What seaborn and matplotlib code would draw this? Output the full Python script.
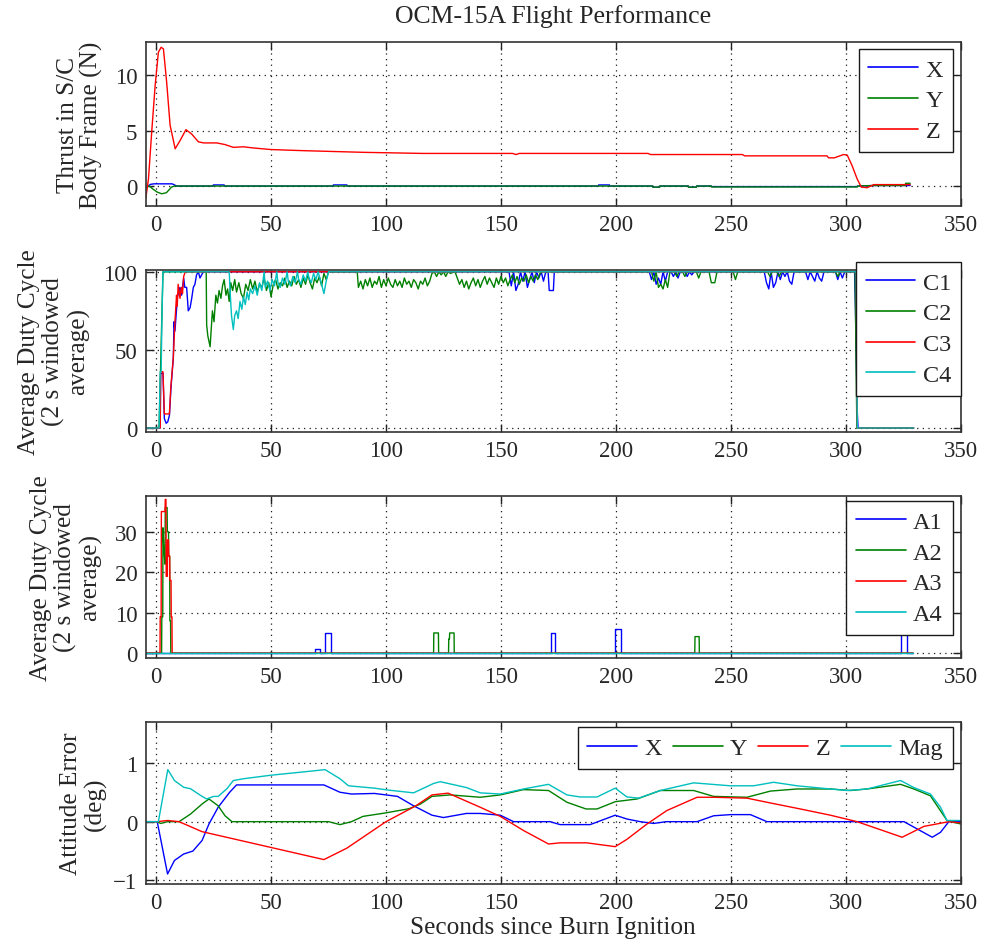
import numpy as np
import pandas as pd
import matplotlib
matplotlib.use("Agg")
import matplotlib.pyplot as plt
import seaborn as sns

# ---------------- data ----------------
# Panel 1: thrust in S/C body frame (N)
thr_x_t = [-4.5, -4, -2.5, -1, 7, 9, 24.8, 24.9, 29.6, 29.7, 77, 77.1, 83, 83.1, 192.4, 192.5, 197.2, 197.3,
           216, 216.1, 219, 219.1, 231.5, 231.6, 235, 235.1, 241.5, 241.6, 305, 305.1, 312, 328]
thr_x_v = [0, -0.1, 0.15, 0.2, 0.2, 0, 0, 0.1, 0.1, 0, 0, 0.1, 0.1, 0, 0, 0.1, 0.1, 0,
           0, -0.1, -0.1, 0, 0, -0.1, -0.1, 0, 0, -0.05, -0.05, 0, 0.05, 0.05]
thr_y_t = [-4.5, -3, -1.2, 0.5, 2.5, 4.5, 6.7, 8, 216, 216.1, 219, 219.1, 231.5, 231.6, 235, 235.1,
           241.5, 241.6, 305, 305.1, 312, 325.9, 326, 328]
thr_y_v = [0, 0, -0.3, -0.55, -0.7, -0.6, -0.1, 0, 0, -0.1, -0.1, 0, 0, -0.1, -0.1, 0,
           0, -0.08, -0.08, 0, 0.05, 0.05, 0.25, 0.25]
thr_z_t = [-4.5, -3.3, -1.9, -0.4, 1.0, 2.2, 3.2, 4.6, 6.1, 8.3, 10.4, 13.0, 15.5, 18.4, 20.7, 26.4, 30,
           33.6, 38, 42, 50, 64, 90, 116, 155, 156.5, 158, 214, 215, 255, 256, 291.8, 292.5, 295, 299,
           300.6, 302.7, 304.9, 306.7, 309.3, 312.2, 328]
thr_z_v = [-1.15, 0.66, 4.9, 9.1, 12.1, 12.55, 12.4, 9.4, 5.5, 3.37, 4.1, 5.1, 4.7, 4.0, 3.9, 3.9, 3.75,
           3.5, 3.55, 3.45, 3.3, 3.2, 3.05, 2.95, 2.95, 2.85, 2.95, 2.95, 2.85, 2.85, 2.73, 2.73, 2.55, 2.55,
           2.85, 2.8, 1.86, 0.66, -0.09, -0.15, 0.13, 0.13]

# Panel 2: C thrusters duty cycle (%)
c1_t = [-4.5, 1.8, 2.0, 3.0, 3.6, 4.4, 5.1, 5.8, 6.5, 7.5, 7.8, 8.2, 8.6, 9.3, 10.4, 11.1, 12.0, 12.5, 13.3,
        14.0, 14.8, 15.5, 16.2, 16.9, 17.6, 18.4, 19.1, 19.8, 20.5,
        153.5, 154.5, 155.5, 156.5, 157.5, 158.5, 159.5, 160.5, 161.5, 162.5, 163.5, 164.5, 165.5, 166.5,
        167.5, 168.5, 169.5, 170.5, 171.0, 172.8, 173.2,
        214.5, 215.5, 216.5, 217.5, 218.5, 219.5, 220.5, 221.5, 222.5, 224, 225, 226, 227, 228, 230, 231,
        232, 233, 234,
        264.5, 265.5, 266.5, 267.5, 268.5, 269.5, 270.5, 271.5, 272.5, 273.5, 274.5, 275.5, 276.5, 277.5,
        282.5, 283.5, 284.5, 285.5, 286.5, 287.5, 288.5, 289.5, 290.5, 291.5,
        295.5, 296.5, 297.5, 298.5, 299.5, 303.8, 304.2, 304.6, 305.0, 305.3, 329.5]
c1_v = [0, 0, 35, 35, 6, 3, 4, 8, 26, 45, 68, 62, 70, 84, 90, 85, 96, 90, 90,
        75, 77, 83, 90, 92, 98, 100, 96, 98, 100,
        100, 91, 100, 88, 92, 100, 94, 100, 90, 95, 100, 93, 100, 96,
        100, 94, 100, 100, 88, 88, 100,
        100, 95, 100, 92, 96, 92, 100, 94, 100, 100, 97, 100, 96, 100, 100, 97,
        100, 98, 100,
        100, 93, 89, 100, 90, 93, 100, 95, 100, 97, 100, 94, 92, 100,
        100, 95, 100, 97, 94, 100, 96, 94, 100, 100,
        100, 95, 100, 96, 100, 100, 75, 40, 10, 0, 0]
c2_t = [-4.5, 1.3, 3.0, 21.8, 22.0, 22.5, 23.5, 24.5, 25.2, 26.0, 26.7, 27.4, 28.2, 28.9, 29.6, 30.4, 31.1,
        31.8, 32.5, 33.3, 34.2, 35, 36, 37, 38, 39, 40, 41, 42, 43, 44, 45, 46, 47, 48, 49, 50, 51, 52, 53,
        54, 55, 56, 57, 58, 59, 60, 61, 62, 63, 64, 65, 66, 67, 68, 69, 70, 71, 72, 73, 74, 75, 87.5,
        88, 89, 90, 91, 92, 93, 94, 95, 96, 97, 98, 99, 100, 101, 102, 103, 104, 105, 106, 107, 108, 109,
        110, 111, 112, 113, 114, 115, 116, 117, 118, 119, 120, 121, 122, 123, 124, 125, 126, 127, 128,
        130, 131, 132, 133, 134, 135, 136, 137, 138, 139, 140, 141, 142, 143, 144, 145, 146, 147, 148,
        149, 150, 151, 152, 153, 154, 155, 156, 157, 158, 159, 160, 161, 162, 163, 164, 165, 166, 167,
        168, 215.5, 216.5, 217.5, 218.5, 219.5, 220.5, 221.5, 222.5, 223.5, 225.5, 226.5, 227.5, 229,
        230, 231, 235, 236, 237, 240.5, 241.5, 243, 244, 251, 252, 253, 266, 267, 268, 270, 271, 272,
        295.5, 296.5, 297.5, 304.0, 304.8, 329.5]
c2_v = [0, 0, 100, 100, 66, 59, 52, 75, 68, 85, 80, 88, 83, 91, 95, 85, 89,
        81, 93, 88, 95, 87, 93, 86, 83, 92, 88, 95, 89, 94, 87, 92, 90, 96, 88, 93, 84, 92, 95, 89,
        93, 91, 96, 90, 94, 91, 97, 92, 95, 90, 96, 92, 98, 93, 89, 96, 93, 97, 91, 99, 95, 100, 100,
        90, 94, 89, 95, 91, 96, 90, 94, 92, 97, 90, 95, 91, 96, 92, 90, 95, 91, 94, 90, 96, 92,
        94, 90, 95, 93, 89, 94, 92, 96, 91, 94, 99, 100, 97, 100, 98, 100, 97, 100, 99,
        100, 96, 92, 95, 90, 94, 89, 93, 96, 91, 95, 90, 94, 97, 92, 96, 93, 90, 96,
        92, 97, 93, 96, 91, 95, 98, 93, 97, 92, 96, 94, 98, 93, 97, 94, 98, 95, 99,
        100, 100, 94, 100, 90, 92, 89, 95, 90, 100, 100, 97, 100, 100,
        97, 100, 100, 96, 100, 100, 93, 93, 100, 100, 95, 100, 100, 97, 100, 100, 97, 100,
        100, 97, 100, 100, 0, 0]
c3_t = [-4.5, 1.8, 2.0, 3.0, 3.6, 5.8, 6.4, 7.5, 8.2, 8.9, 9.2, 9.6, 10.4, 11.0, 11.5, 12.0, 12.7,
        304.5, 305.0, 329.5]
c3_v = [0, 0, 36, 36, 9, 9, 26, 45, 68, 85, 78, 92, 83, 90, 86, 97, 100, 100, 0, 0]
c4_t = [-4.5, 1.3, 1.8, 2.2, 2.6, 3.0, 31.8, 32.3, 32.8, 33.6, 34.2, 35, 35.7, 36.5, 37.3, 38, 38.8, 39.6,
        40.3, 41, 42, 43, 44, 45, 46, 47, 47.5, 48.5, 49.5, 50.5, 51.5, 52.5, 53, 54, 55, 56, 57, 57.5,
        58.5, 59.5, 60.5, 61.5, 62, 63, 64, 65, 66, 66.5, 67.5, 68.5, 69.5, 70.5, 71, 72, 73, 74, 75,
        304.5, 305.0, 329.5]
c4_v = [0, 0, 36, 36, 75, 100, 100, 85, 72, 63, 72, 75, 70, 81, 76, 84, 79, 87,
        82, 89, 86, 91, 85, 93, 88, 100, 90, 94, 88, 95, 91, 100, 93, 90, 96, 92, 100, 94,
        91, 97, 93, 100, 95, 92, 98, 94, 100, 96, 93, 99, 95, 100, 97, 92, 86, 94, 100,
        100, 0, 0]

# Panel 3: A thrusters duty cycle (%)
a1_t = [-4.5, 69.3, 69.3, 71.4, 71.4, 73.5, 73.5, 76.0, 76.0, 171.6, 171.6, 173.7, 173.7, 199.7, 199.7,
        202.2, 202.2, 324.0, 324.0, 326.4, 326.4, 329.3]
a1_v = [0, 0, 1, 1, 0, 0, 5, 5, 0, 0, 5, 5, 0, 0, 6, 6, 0, 0, 5, 5, 0, 0]
a2_t = [-4.5, 2.4, 2.5, 2.9, 3.0, 3.4, 3.5, 3.9, 4.0, 4.8, 4.9, 5.4, 5.5, 5.9, 6.0, 6.3, 6.4, 120.7, 120.8,
        122.8, 122.9, 127.2, 127.3, 127.6, 127.7, 129.6, 129.7, 234.3, 234.4, 236.2, 236.3, 329.3]
a2_v = [0, 0, 9, 9, 31, 25, 25, 22, 36, 36, 30, 30, 24, 24, 8, 8, 0, 0, 5,
        5, 0, 0, 3.5, 3.5, 5, 5, 0, 0, 4.1, 4.1, 0, 0]
a3_t = [-4.5, 1.7, 1.8, 2.2, 2.3, 3.9, 4.0, 4.3, 4.4, 4.9, 5.0, 5.4, 5.5, 5.9, 6.0, 6.5, 6.6, 6.9, 7.0, 329.3]
a3_v = [0, 0, 9, 9, 35, 35, 38, 38, 19, 19, 28, 28, 24, 24, 18, 18, 9, 9, 0, 0]
a4_t = [-4.5, 329.3]
a4_v = [0, 0]

# Panel 4: attitude error (deg)
att_x_t = [-4.5, 0.5, 5.0, 8.0, 12, 16, 20, 23, 27, 32, 35, 73, 80, 85, 95, 105, 112, 120, 125, 135, 141,
           149.7, 155.5, 171.4, 175.7, 188.8, 199.7, 204.8, 210.6, 216.4, 222, 235.3, 242.5, 249.8, 258.5,
           265.7, 325.3, 337.6, 341.2, 344.8, 350]
att_x_v = [0, 0, -0.89, -0.66, -0.55, -0.5, -0.32, -0.04, 0.245, 0.5, 0.625, 0.625, 0.5, 0.47, 0.48, 0.43,
           0.27, 0.11, 0.07, 0.14, 0.14, 0.11, 0, 0, -0.05, -0.05, 0.11, 0.045, 0, -0.03, 0, 0, 0.1, 0.12,
           0.12, 0, 0, -0.265, -0.18, 0, 0]
att_y_t = [-4.5, 0.5, 2, 5, 10, 15, 20, 23, 27, 30, 33, 75, 80, 85, 90, 100, 110, 115, 120, 128, 141, 149.7,
           159.8, 170.7, 178.7, 187, 191.8, 199.7, 209.2, 219.3, 233.8, 242.5, 257, 267.2, 278.8, 293.3,
           302, 309.3, 323.8, 329.6, 336.8, 344, 350]
att_y_v = [0, 0, -0.03, 0, 0, 0.13, 0.3, 0.386, 0.27, 0.1, 0, 0, -0.05, 0, 0.09, 0.15, 0.22, 0.3, 0.43,
           0.455, 0.415, 0.455, 0.545, 0.53, 0.33, 0.216, 0.216, 0.34, 0.386, 0.53, 0.53, 0.43, 0.415,
           0.52, 0.556, 0.556, 0.53, 0.556, 0.635, 0.556, 0.44, 0.02, -0.04]
att_z_t = [-4.5, 0.5, 5, 10, 20, 73, 83, 100, 113, 120, 127, 141, 149.7, 159.8, 170.7, 175.7, 187.3, 199.7,
           204.8, 213.5, 222.2, 235.3, 242.5, 257, 265.7, 280.2, 293.3, 304.9, 315, 324.5, 334, 344.8, 350]
att_z_v = [0, 0, 0.02, 0, -0.17, -0.645, -0.45, 0, 0.27, 0.455, 0.485, 0.245, 0.09, -0.15, -0.38, -0.36,
           -0.36, -0.425, -0.3, -0.04, 0.19, 0.415, 0.415, 0.4, 0.33, 0.216, 0.11, 0, -0.136, -0.265,
           -0.08, 0, -0.02]
att_m_t = [-4.5, 1.0, 5.1, 8, 12, 15, 20, 22, 25, 27, 30.8, 33.6, 38, 49.9, 65, 73.5, 80, 83.7, 95, 100.4,
           112, 120.7, 123.6, 135, 141, 149.7, 159.8, 170.7, 178.7, 184.5, 191.8, 199.7, 204.8, 209.9,
           219.3, 233.8, 249.8, 259.9, 268.6, 278.8, 293.3, 300.6, 309.3, 323.8, 329.6, 336.8, 341.2,
           344, 350]
att_m_v = [0, 0, 0.885, 0.70, 0.585, 0.56, 0.43, 0.386, 0.43, 0.43, 0.56, 0.70, 0.73, 0.79, 0.85, 0.885,
           0.73, 0.61, 0.57, 0.54, 0.49, 0.65, 0.68, 0.58, 0.49, 0.47, 0.556, 0.635, 0.455, 0.42, 0.42,
           0.57, 0.42, 0.40, 0.53, 0.66, 0.61, 0.61, 0.67, 0.61, 0.556, 0.53, 0.556, 0.70, 0.58, 0.47,
           0.245, 0.02, 0.02]

x_ticks = [0, 50, 100, 150, 200, 250, 300, 350]
title = "OCM-15A Flight Performance"
xlabel = "Seconds since Burn Ignition"

# ---------------- style ----------------
sns.set_theme(style="ticks")
plt.rcParams["font.family"] = ["Liberation Serif", "DejaVu Serif"]

BLUE, GREEN, RED, CYAN = "#0000ff", "#008000", "#ff0000", "#00bfbf"
FS = 16.5      # tick labels
LFS = 17.5     # legend
TFS = 18.2     # labels / title

fig = plt.figure(figsize=(9.84, 9.45), dpi=100)
L, W = 0.1481, 0.8283
boxes = [(0.7810, 0.1732), (0.5421, 0.1714), (0.3026, 0.1717), (0.0635, 0.1711)]
axes = [fig.add_axes([L, b, W, h]) for b, h in boxes]


def draw(ax, t, v, color, label):
    sns.lineplot(x=t, y=v, ax=ax, color=color, linewidth=1.0, sort=False,
                 estimator=None, label=label, legend=False)


def style(ax, ylim, yticks):
    ax.set_xlim(-4.5, 350)
    ax.set_ylim(*ylim)
    ax.set_xticks(x_ticks)
    ax.set_yticks(yticks)
    ax.tick_params(direction="in", top=True, right=True, length=6, width=1,
                   labelsize=FS, pad=6, color="#222222")
    ax.grid(True, color="k", linestyle=(0, (1, 3.5)), linewidth=0.9)
    for s in ax.spines.values():
        s.set_color("#333333")
        s.set_linewidth(1.2)
    ax.set_xlabel("")
    ax.set_ylabel("")


def leg(ax, anchor, ncol=1, colsp=0.6, hl=2.05):
    lg = ax.legend(loc="upper right", bbox_to_anchor=anchor, borderaxespad=0,
                   fontsize=LFS, ncol=ncol, frameon=True, fancybox=False, shadow=False,
                   handlelength=hl, handletextpad=0.3, labelspacing=0.36,
                   columnspacing=colsp, borderpad=0.4)
    fr = lg.get_frame()
    fr.set_edgecolor("k")
    fr.set_linewidth(1.0)
    fr.set_facecolor("white")
    fr.set_alpha(1)
    for ln in lg.get_lines():
        ln.set_linewidth(1.2)
    return lg


ax1, ax2, ax3, ax4 = axes
draw(ax1, thr_x_t, thr_x_v, BLUE, "X")
draw(ax1, thr_y_t, thr_y_v, GREEN, "Y")
draw(ax1, thr_z_t, thr_z_v, RED, "Z")
style(ax1, (-1.8, 13.0), [0, 5, 10])
leg(ax1, (0.990, 0.959))

draw(ax2, c1_t, c1_v, BLUE, "C1")
draw(ax2, c2_t, c2_v, GREEN, "C2")
draw(ax2, c3_t, c3_v, RED, "C3")
draw(ax2, c4_t, c4_v, CYAN, "C4")
style(ax2, (-2.4, 101.3), [0, 50, 100])
leg(ax2, (1.0, 1.049))

draw(ax3, a1_t, a1_v, BLUE, "A1")
draw(ax3, a2_t, a2_v, GREEN, "A2")
draw(ax3, a3_t, a3_v, RED, "A3")
draw(ax3, a4_t, a4_v, CYAN, "A4")
style(ax3, (-1.2, 38.9), [0, 10, 20, 30])
leg(ax3, (0.990, 0.967))

draw(ax4, att_x_t, att_x_v, BLUE, "X")
draw(ax4, att_y_t, att_y_v, GREEN, "Y")
draw(ax4, att_z_t, att_z_v, RED, "Z")
draw(ax4, att_m_t, att_m_v, CYAN, "Mag")
style(ax4, (-1.06, 1.69), [-1, 0, 1])
leg(ax4, (0.990, 0.969), ncol=4, colsp=0.45, hl=2.05)

# y labels (multi-line, centred on each axes)
H = 945.0
ylabels = [("Thrust in S/C\nBody Frame (N)", 80, (43.3 + 207) / 2),
           ("Average Duty Cycle\n(2 s windowed\naverage)", 54, (270.7 + 432.7) / 2),
           ("Average Duty Cycle\n(2 s windowed\naverage)", 66, (496.7 + 659) / 2),
           ("Attitude Error\n(deg)", 83.5, (723.3 + 885) / 2)]
for txt, xp, yp in ylabels:
    fig.text(xp / 984.0, 1 - yp / H, txt, rotation=90, ha="center", va="center",
             multialignment="center", fontsize=TFS, linespacing=1.1)

fig.text(553 / 984.0, 1 - 17 / H, title, ha="center", va="center", fontsize=TFS + 0.3)
fig.text(553 / 984.0, 1 - 928 / H, xlabel, ha="center", va="center", fontsize=TFS)

fig.savefig("out.png", dpi=100, facecolor="white")
